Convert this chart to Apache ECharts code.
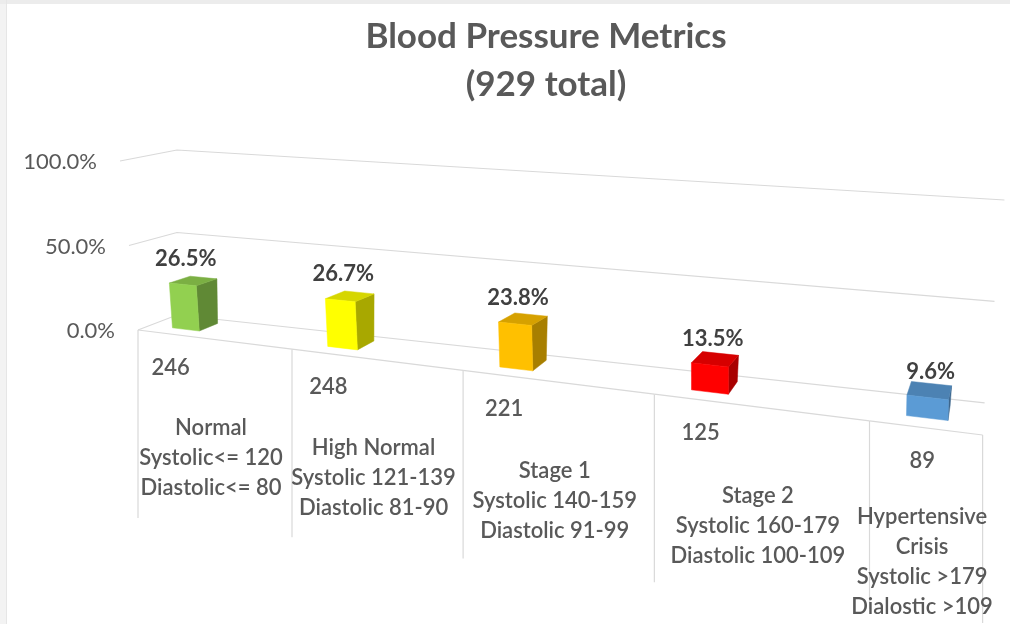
<!DOCTYPE html>
<html>
<head>
<meta charset="utf-8">
<script src="https://cdn.jsdelivr.net/npm/echarts@6/dist/echarts.min.js"></script>
<style>
html,body{margin:0;padding:0;background:#ffffff;}
#chart{width:1010px;height:624px;}
</style>
</head>
<body>
<div id="chart"></div>
<script>
// ---------------- data ----------------
const titleText = 'Blood Pressure Metrics\n(929 total)';
const categories = [
  'Normal\nSystolic<= 120\nDiastolic<= 80',
  'High Normal\nSystolic 121-139\nDiastolic 81-90',
  'Stage 1\nSystolic 140-159\nDiastolic 91-99',
  'Stage 2\nSystolic 160-179\nDiastolic 100-109',
  'Hypertensive\nCrisis\nSystolic >179\nDialostic >109'
];
const counts = [246, 248, 221, 125, 89];
const percents = [26.5, 26.7, 23.8, 13.5, 9.6];
const yTicks = [0, 50, 100];

// ---------------- style / view ----------------
const barColors = ['#92D050', '#FFFF00', '#FFC000', '#FF0000', '#5B9BD5'];
const FONT = 'Lato, "Open Sans", "DejaVu Sans", sans-serif';
const N = categories.length;
const VIEW = {
  k: 0.05, A: 146.3,                 // perspective along category direction
  fx0: 138, fy0: 330, fSlope: 0.1243,// front edge of floor
  bx0: 177, by0: 315, bSlope: 0.1089,// back edge of floor
  vpz: [1010, -6],                   // depth vanishing point
  sF0: 169, sFk: 0.0663,             // height scale at front
  sB0: 165, sBk: 0.047,              // height scale at back wall
  tF0: -0.1065, tFk: 0.000126,       // vertical tilt at front
  tBk: 0.000121,                     // vertical tilt at back
  xEnd: 4.48,                        // visible end of the floor (category units)
  barShift: -0.26, barHalf: 0.09, z0: 0.32, z1: 0.8,
  tableDepth: 188
};

function frontPt(X) {
  const x = VIEW.fx0 + VIEW.A * X / (1 - VIEW.k * X);
  return [x, VIEW.fy0 + VIEW.fSlope * (x - VIEW.fx0)];
}
function backPt(f) {
  const dx = VIEW.vpz[0] - f[0], dy = VIEW.vpz[1] - f[1];
  const t = (VIEW.by0 + VIEW.bSlope * (f[0] - VIEW.bx0) - f[1]) / (dy - VIEW.bSlope * dx);
  return [f[0] + t * dx, f[1] + t * dy];
}
function P(X, Y, Z) {
  const f = frontPt(X), b = backPt(f);
  const fx = f[0] + Z * (b[0] - f[0]), fy = f[1] + Z * (b[1] - f[1]);
  const sF = VIEW.sF0 + VIEW.sFk * (f[0] - VIEW.fx0);
  const sB = VIEW.sB0 + VIEW.sBk * (b[0] - VIEW.bx0);
  const S = sF + Z * (sB - sF);
  const tF = VIEW.tF0 + VIEW.tFk * (f[0] - VIEW.fx0);
  const tB = VIEW.tBk * (b[0] - VIEW.bx0);
  const tilt = tF + Z * (tB - tF);
  const h = Y * S;
  return [fx + tilt * h, fy - h];
}
function shade(hex, f) {
  const n = parseInt(hex.slice(1), 16);
  const r = Math.round(((n >> 16) & 255) * f), g = Math.round(((n >> 8) & 255) * f), b = Math.round((n & 255) * f);
  return 'rgb(' + r + ',' + g + ',' + b + ')';
}
function worldX(api, cs, i) { return (api.coord([i, 0])[0] - cs.x) / cs.width * N; }
function worldY(api, cs, v) { return (cs.y + cs.height - api.coord([0, v])[1]) / cs.height; }

const GRID_COLOR = '#d9d9d9';
const TEXT_COLOR = '#595959';

const chart = echarts.init(document.getElementById('chart'), null, { renderer: 'canvas' });
chart.setOption({
  backgroundColor: '#ffffff',
  animation: false,
  title: {
    text: titleText,
    left: 541, top: 8, textAlign: 'center',
    textStyle: { fontFamily: FONT, fontSize: 35, fontWeight: 'bold', color: '#595959', lineHeight: 48 }
  },
  grid: { left: 100, right: 100, top: 100, bottom: 100 },
  xAxis: { type: 'category', data: categories, show: false },
  yAxis: { type: 'value', min: 0, max: 100, show: false },
  graphic: [
    { type: 'rect', shape: { x: 0, y: 0, width: 7, height: 624 }, style: { fill: '#f3f3f3' }, z: -1 },
    { type: 'line', shape: { x1: 6.5, y1: 0, x2: 6.5, y2: 624 }, style: { stroke: '#e6e6e6', lineWidth: 1 } },
    { type: 'rect', shape: { x: 0, y: 0, width: 1010, height: 4 }, style: { fill: '#ececec' }, z: -1 }
  ],
  series: [
    {
      // walls: gridlines on side and back wall + value labels
      type: 'custom', name: 'walls', clip: false, z: 1,
      data: yTicks.map(t => [0, t]),
      renderItem: function (params, api) {
        const cs = params.coordSys;
        const t = api.value(1);
        const Y = worldY(api, cs, t);
        const a = P(0, Y, 0), b = P(0, Y, 1), c = P(VIEW.xEnd, Y, 1);
        return {
          type: 'group', children: [
            { type: 'polyline', shape: { points: [a, b, c] }, style: { stroke: GRID_COLOR, lineWidth: 1.2, fill: null } },
            { type: 'text', style: { text: t.toFixed(1) + '%', x: a[0] - 23, y: a[1] + 1, align: 'right', verticalAlign: 'middle',
              fontFamily: FONT, fontSize: 22, fill: TEXT_COLOR } }
          ]
        };
      }
    },
    {
      // floor front edge, category table lines, counts and category labels
      type: 'custom', name: 'table', clip: false, z: 2,
      data: categories.map((c, i) => [i, 0]),
      renderItem: function (params, api) {
        const cs = params.coordSys;
        const i = api.value(0);
        const Xc = worldX(api, cs, i);
        const X0 = Xc - 0.5, X1 = Math.min(Xc + 0.5, VIEW.xEnd);
        const f0 = frontPt(X0), f1 = frontPt(X1);
        const kids = [
          { type: 'line', shape: { x1: f0[0], y1: f0[1], x2: f1[0], y2: f1[1] }, style: { stroke: GRID_COLOR, lineWidth: 1.2 } },
          { type: 'line', shape: { x1: f0[0], y1: f0[1], x2: f0[0], y2: f0[1] + VIEW.tableDepth }, style: { stroke: GRID_COLOR, lineWidth: 1.2 } }
        ];
        if (i === N - 1) {
          kids.push({ type: 'line', shape: { x1: f1[0], y1: f1[1], x2: f1[0], y2: f1[1] + VIEW.tableDepth }, style: { stroke: GRID_COLOR, lineWidth: 1.2 } });
        }
        const fb = frontPt(Xc + VIEW.barShift);
        kids.push({ type: 'text', style: { text: String(counts[i]), x: fb[0] - 3, y: fb[1] + 33, align: 'center', verticalAlign: 'middle',
          fontFamily: FONT, fontSize: 22, fontWeight: 600, fill: TEXT_COLOR } });
        const cx = (f0[0] + f1[0]) / 2 - 4;
        const cy = VIEW.fy0 + VIEW.fSlope * (cx - VIEW.fx0);
        kids.push({ type: 'text', style: { text: categories[i], x: cx, y: cy + 74, align: 'center', verticalAlign: 'top',
          fontFamily: FONT, fontSize: 22, fontWeight: 600, lineHeight: 30, fill: TEXT_COLOR } });
        return { type: 'group', children: kids };
      }
    },
    {
      // 3D boxes
      type: 'custom', name: 'bars', clip: false, z: 3,
      data: percents.map((p, i) => [i, p]),
      renderItem: function (params, api) {
        const cs = params.coordSys;
        const i = api.value(0), p = api.value(1);
        const Xc = worldX(api, cs, i) + VIEW.barShift;
        const v = worldY(api, cs, p);
        const xl = Xc - VIEW.barHalf, xr = Xc + VIEW.barHalf, z0 = VIEW.z0, z1 = VIEW.z1;
        const col = barColors[i % barColors.length];
        const side = [P(xr, 0, z0), P(xr, 0, z1), P(xr, v, z1), P(xr, v, z0)];
        const top = [P(xl, v, z0), P(xr, v, z0), P(xr, v, z1), P(xl, v, z1)];
        const front = [P(xl, 0, z0), P(xr, 0, z0), P(xr, v, z0), P(xl, v, z0)];
        const lab = P(Xc, v, z0);
        return {
          type: 'group', children: [
            { type: 'polygon', shape: { points: side }, style: { fill: shade(col, 0.66), stroke: shade(col, 0.66), lineWidth: 0.5 } },
            { type: 'polygon', shape: { points: top }, style: { fill: shade(col, 0.84), stroke: shade(col, 0.84), lineWidth: 0.5 } },
            { type: 'polygon', shape: { points: front }, style: { fill: col, stroke: col, lineWidth: 0.5 } },
            { type: 'text', style: { text: p.toFixed(1) + '%', x: lab[0] + 3, y: lab[1] - 26, align: 'center', verticalAlign: 'middle',
              fontFamily: FONT, fontSize: 22, fontWeight: 'bold', fill: '#404040' } }
          ]
        };
      }
    }
  ]
});
</script>
</body>
</html>
